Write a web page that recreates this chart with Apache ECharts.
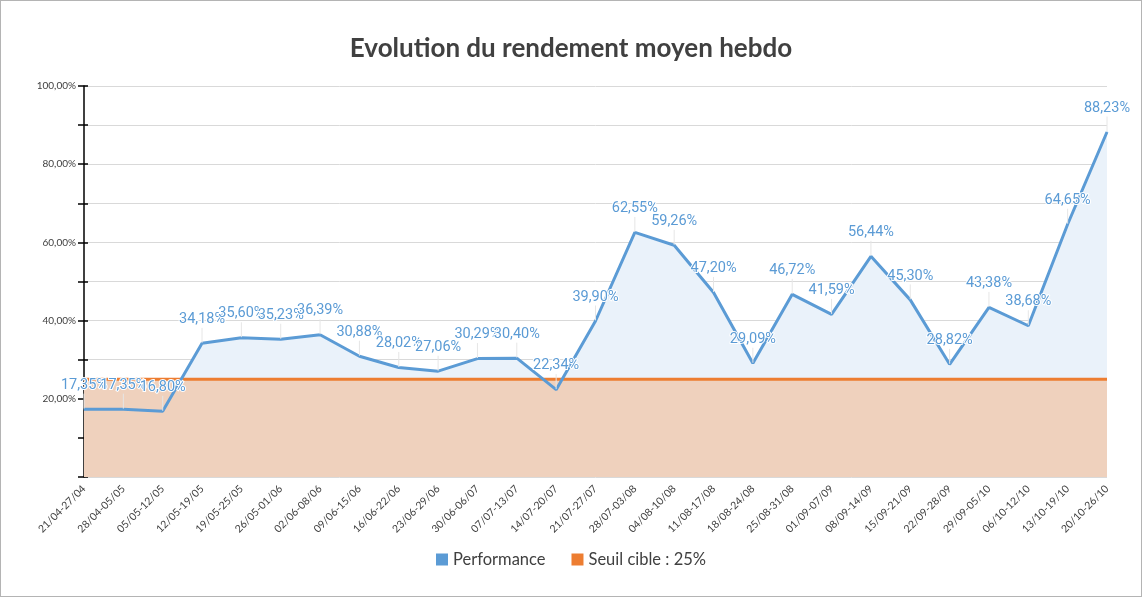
<!DOCTYPE html>
<html>
<head>
<meta charset="utf-8">
<script src="https://cdn.jsdelivr.net/npm/echarts@6/dist/echarts.min.js"></script>
<style>
html,body{margin:0;padding:0;background:#fff;}
#c{width:1142px;height:597px;box-sizing:border-box;border:1px solid #b4b4b4;}
</style>
</head>
<body>
<div id="c"></div>
<script>
const categories = ["21/04-27/04","28/04-05/05","05/05-12/05","12/05-19/05","19/05-25/05","26/05-01/06","02/06-08/06","09/06-15/06","16/06-22/06","23/06-29/06","30/06-06/07","07/07-13/07","14/07-20/07","21/07-27/07","28/07-03/08","04/08-10/08","11/08-17/08","18/08-24/08","25/08-31/08","01/09-07/09","08/09-14/09","15/09-21/09","22/09-28/09","29/09-05/10","06/10-12/10","13/10-19/10","20/10-26/10"];
const performance = [17.35,17.35,16.80,34.18,35.60,35.23,36.39,30.88,28.02,27.06,30.29,30.40,22.34,39.90,62.55,59.26,47.20,29.09,46.72,41.59,56.44,45.30,28.82,43.38,38.68,64.65,88.23];
const threshold = [25,25,25,25,25,25,25,25,25,25,25,25,25,25,25,25,25,25,25,25,25,25,25,25,25,25,25];
const yMin = 0, yMax = 100, yStep = 10;

const fmt = v => v.toFixed(2).replace('.', ',') + '%';
const chart = echarts.init(document.getElementById('c'));
const FONT = 'Lato';
chart.setOption({
  animation: false,
  title: {
    text: 'Evolution du rendement moyen hebdo',
    left: 'center', top: 30,
    textStyle: {fontFamily: FONT, fontWeight: 'bold', fontSize: 26, color: '#404040'}
  },
  legend: {
    bottom: 23, left: 'center',
    itemWidth: 12, itemHeight: 12, itemGap: 26,
    icon: 'rect',
    textStyle: {fontFamily: FONT, fontSize: 16.5, color: '#404040'},
    data: ['Performance', 'Seuil cible : 25%']
  },
  grid: {left: 83, right: 34, top: 85, bottom: 119},
  xAxis: {
    type: 'category', data: categories, boundaryGap: false,
    axisLine: {show: false}, axisTick: {show: false},
    axisLabel: {rotate: 45, interval: 0, fontFamily: FONT, fontSize: 10.5, color: '#404040', margin: 10}
  },
  yAxis: [{
    type: 'value', min: yMin, max: yMax, interval: yStep,
    axisLine: {show: true, lineStyle: {color: '#000', width: 1.5}},
    axisTick: {show: true, length: 6, lineStyle: {color: '#000', width: 1.5}},
    splitLine: {show: true, lineStyle: {color: '#d9d9d9', width: 1}},
    axisLabel: {
      fontFamily: FONT, fontSize: 10, color: '#404040', margin: 8,
      formatter: v => (v > 0 && v % 20 === 0) ? fmt(v) : ''
    }
  }, {
    type: 'value', min: yMin, max: yMax, interval: yStep, position: 'left',
    axisLine: {show: false},
    axisTick: {show: true, inside: true, length: 4, lineStyle: {color: '#000', width: 1.5}},
    splitLine: {show: false}, axisLabel: {show: false}
  }],
  series: [
    {
      name: 'Performance', type: 'line', data: performance, z: 1,
      symbol: 'none', lineStyle: {width: 0}, itemStyle: {color: '#5B9BD5'},
      areaStyle: {color: '#EAF2FA', opacity: 1}, silent: true
    },
    {
      name: 'Seuil cible : 25%', type: 'line', data: threshold, z: 2,
      symbol: 'none', lineStyle: {width: 3, color: '#ED7D31'}, itemStyle: {color: '#ED7D31'},
      areaStyle: {color: '#EFD1BD', opacity: 1}
    },
    {
      name: 'perfLine', type: 'line', data: performance, z: 3,
      symbol: 'circle', symbolSize: 1, showSymbol: true,
      lineStyle: {width: 3, color: '#5B9BD5'}, itemStyle: {color: '#5B9BD5'},
      label: {
        show: true, position: 'top', distance: 4,
        fontFamily: 'Roboto', fontSize: 14.5, color: '#5B9BD5',
        textBorderColor: '#fff', textBorderWidth: 2,
        formatter: p => fmt(p.value)
      },
      labelLayout: {dy: -12},
      labelLine: {show: true, lineStyle: {color: '#e6e6e6', width: 1}}
    }
  ]
});
</script>
</body>
</html>
